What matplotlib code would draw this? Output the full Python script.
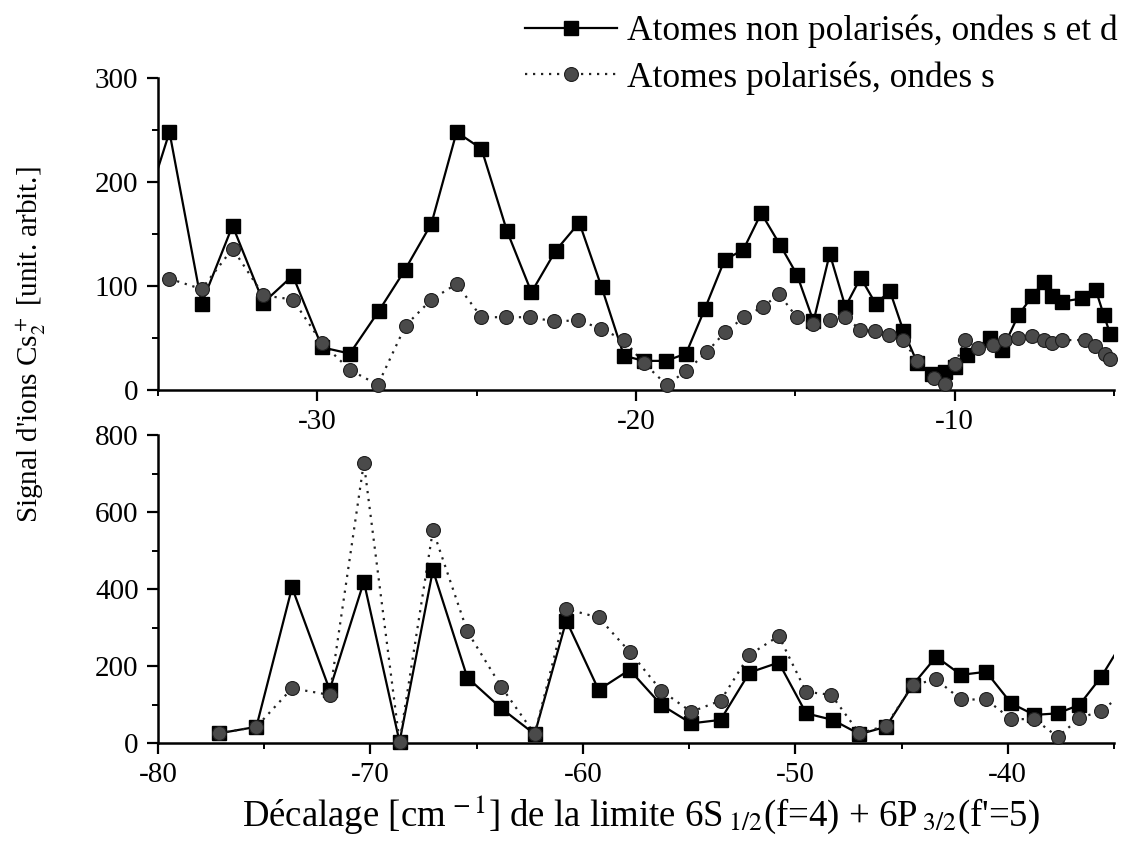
"""
plot.py - Signal d'ions Cs2+ en fonction du décalage (deux panneaux)
"""

import numpy as np
import matplotlib
matplotlib.use('Agg')
import matplotlib.pyplot as plt
from matplotlib.lines import Line2D
from matplotlib.ticker import MultipleLocator

plt.rcParams['font.family'] = ['Liberation Serif', 'DejaVu Serif']
plt.rcParams['mathtext.fontset'] = 'stix'

# ============================================================
# Données
# ============================================================

# Panneau du haut : -35 .. -5 cm-1
top_sq_x = [-35.6, -34.64, -33.63, -32.66, -31.69, -30.77, -29.85, -28.98, -28.07, -27.26,
            -26.42, -25.63, -24.85, -24.05, -23.28, -22.52, -21.78, -21.08, -20.38, -19.76,
            -19.06, -18.43, -17.84, -17.22, -16.63, -16.07, -15.47, -14.95, -14.43, -13.92,
            -13.43, -12.95, -12.48, -12.03, -11.61, -11.17, -10.72, -10.3, -9.98, -9.61,
            -8.89, -8.52, -8.0, -7.57, -7.21, -6.95, -6.63, -6.01, -5.57, -5.32, -5.12]
top_sq_y = [155, 248, 83, 158, 84, 110, 41, 35, 76, 115,
            160, 248, 232, 153, 94, 134, 161, 99, 33, 28,
            28, 35, 78, 125, 135, 170, 139, 111, 66, 131,
            80, 108, 83, 95, 57, 26, 15, 17, 22, 34,
            50, 38, 72, 90, 104, 90, 85, 88, 96, 72, 54]

top_ci_x = [-34.64, -33.63, -32.66, -31.69, -30.77, -29.85, -28.96, -28.1, -27.23, -26.42,
            -25.63, -24.85, -24.08, -23.32, -22.57, -21.81, -21.1, -20.38, -19.76, -19.04,
            -18.43, -17.76, -17.2, -16.6, -16.03, -15.5, -14.96, -14.44, -13.92, -13.43,
            -12.96, -12.5, -12.05, -11.62, -11.17, -10.65, -10.3, -9.98, -9.68, -9.26,
            -8.8, -8.42, -8.0, -7.58, -7.21, -6.95, -6.64, -5.9, -5.59, -5.27, -5.12]
top_ci_y = [107, 97, 136, 91, 87, 45, 19, 5, 62, 87,
            102, 70, 70, 70, 66, 67, 59, 48, 26, 5,
            18, 37, 56, 70, 80, 92, 70, 63, 67, 70,
            58, 57, 53, 48, 28, 12, 6, 25, 48, 40,
            43, 48, 50, 52, 48, 45, 48, 48, 42, 35, 30]

# Panneau du bas : -80 .. -35 cm-1
bot_sq_x = [-77.14, -75.37, -73.69, -71.92, -70.31, -68.63, -67.06, -65.44, -63.84, -62.27,
            -60.78, -59.26, -57.8, -56.31, -54.9, -53.52, -52.16, -50.78, -49.49, -48.24,
            -46.98, -45.73, -44.47, -43.37, -42.2, -41.02, -39.84, -38.75, -37.65, -36.63,
            -35.6, -34.4]
bot_sq_y = [25, 42, 404, 138, 419, 3, 449, 170, 90, 23,
            318, 138, 190, 99, 51, 60, 183, 209, 77, 60,
            23, 42, 151, 224, 177, 185, 103, 73, 77, 99,
            172, 280]

bot_ci_x = [-77.14, -75.37, -73.69, -71.92, -70.31, -68.63, -67.06, -65.44, -63.84, -62.27,
            -60.78, -59.26, -57.8, -56.31, -54.9, -53.52, -52.16, -50.78, -49.49, -48.31,
            -46.98, -45.73, -44.47, -43.37, -42.2, -41.02, -39.84, -38.75, -37.65, -36.63,
            -35.6, -34.4]
bot_ci_y = [25, 42, 142, 125, 728, 3, 553, 290, 146, 23,
            348, 326, 237, 136, 81, 110, 229, 278, 133, 125,
            25, 45, 151, 165, 113, 113, 62, 62, 16, 64,
            84, 135]

LABEL_SQ = 'Atomes non polarisés, ondes s et d'
LABEL_CI = 'Atomes polarisés, ondes s'

SQ_STYLE = dict(color='black', lw=1.6, ls='-')
CI_STYLE = dict(color='#222222', lw=1.6, ls=(0, (1, 2.6)))
SQ_MK = dict(marker='s', ms=10.5, mfc='black', mec='black')
CI_MK = dict(marker='o', ms=10, mfc='#4a4a4a', mec='#1e1e1e', mew=0.8)

FS = 21        # graduations, titre vertical
FS_LEG = 25.5  # légende
FS_X = 26.5    # titre horizontal


def draw_series(ax, x, y, line_kw, mk_kw, xlim):
    x = np.asarray(x)
    y = np.asarray(y)
    # ligne coupée au bord, marqueurs entiers (débordent sur l'axe)
    ax.plot(x, y, clip_on=True, zorder=2, **line_kw)
    inside = (x >= xlim[0]) & (x <= xlim[1])
    ax.plot(x[inside], y[inside], ls='none', clip_on=False, zorder=3, **mk_kw)


def style_axis(ax, xlim, ylim, xmaj, ymaj, ymin):
    ax.set_xlim(*xlim)
    ax.set_ylim(*ylim)
    ax.xaxis.set_major_locator(MultipleLocator(xmaj))
    ax.xaxis.set_minor_locator(MultipleLocator(5))
    ax.yaxis.set_major_locator(MultipleLocator(ymaj))
    ax.yaxis.set_minor_locator(MultipleLocator(ymin))
    ax.spines['top'].set_visible(False)
    ax.spines['right'].set_visible(False)
    for s in ('left', 'bottom'):
        ax.spines[s].set_linewidth(1.8)
    ax.tick_params(which='major', direction='out', length=8, width=1.6,
                   labelsize=FS, pad=6)
    ax.tick_params(which='minor', direction='out', length=4, width=1.4)


fig = plt.figure(figsize=(11.24, 8.49), dpi=100)
left, width = 158 / 1124, (1114 - 158) / 1124
ax_top = fig.add_axes([left, 1 - 390 / 849, width, (390 - 78) / 849])
ax_bot = fig.add_axes([left, 1 - 743 / 849, width, (743 - 435) / 849])

# Haut
xl_top = (-35, -5)
draw_series(ax_top, top_sq_x, top_sq_y, SQ_STYLE, SQ_MK, xl_top)
draw_series(ax_top, top_ci_x, top_ci_y, CI_STYLE, CI_MK, xl_top)
style_axis(ax_top, xl_top, (0, 300), 10, 100, 50)
ax_top.set_xticks([-30, -20, -10])
ax_top.set_xticklabels(['-30', '-20', '-10'])
ax_top.set_yticklabels([str(int(v)) for v in ax_top.get_yticks()])

# Bas
xl_bot = (-80, -35)
draw_series(ax_bot, bot_sq_x, bot_sq_y, SQ_STYLE, SQ_MK, xl_bot)
draw_series(ax_bot, bot_ci_x, bot_ci_y, CI_STYLE, CI_MK, xl_bot)
style_axis(ax_bot, xl_bot, (0, 800), 10, 200, 100)
ax_bot.set_xticks([-80, -70, -60, -50, -40])
ax_bot.set_xticklabels(['-80', '-70', '-60', '-50', '-40'])
ax_bot.set_yticklabels([str(int(v)) for v in ax_bot.get_yticks()])

# Titres d'axes
fig.text(32 / 1124, 1 - 345 / 849, r"Signal d'ions Cs$_2^+$ [unit. arbit.]",
         rotation=90, ha='center', va='center', fontsize=FS)
fig.text(641 / 1124, 1 - 815 / 849,
         r"Décalage [cm$^{\,-1}$] de la limite 6S$_{\;1/2}$(f=4) + 6P$_{\;3/2}$(f'=5)",
         ha='center', va='center', fontsize=FS_X)

# Légende
handles = [Line2D([], [], **SQ_STYLE, **SQ_MK), Line2D([], [], **CI_STYLE, **CI_MK)]
fig.legend(handles, [LABEL_SQ, LABEL_CI], loc='upper right',
           bbox_to_anchor=(1118 / 1124, 1 - 15 / 849), frameon=False, fontsize=FS_LEG,
           handlelength=2.6, handletextpad=0.3, labelspacing=0.36,
           borderaxespad=0, borderpad=0)

fig.savefig('out.png', dpi=100)
plt.close(fig)
